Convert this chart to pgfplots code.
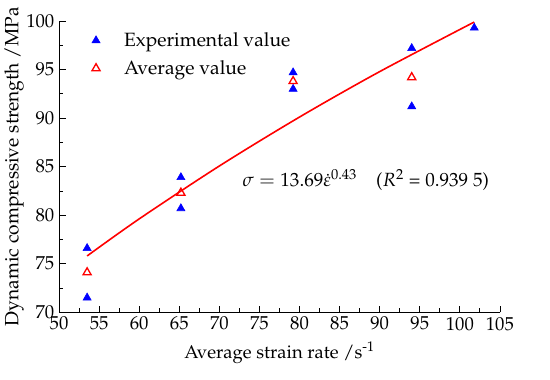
\documentclass[border=0pt]{standalone}
\usepackage[T1]{fontenc}
\usepackage{mathpazo}
\usepackage{pgfplots}
\pgfplotsset{compat=1.18}
\begin{document}
\begin{tikzpicture}
\begin{axis}[
  width=330pt, height=218pt, scale only axis,
  xmin=50, xmax=105, ymin=70, ymax=100,
  axis x line*=bottom, axis y line*=left,
  axis line style={-, line width=0.8pt},
  xtick={50,55,...,105}, ytick={70,75,...,100},
  minor x tick num=1, minor y tick num=1,
  tick align=inside, tick style={black, line width=0.6pt},
  major tick length=5pt, minor tick length=3pt,
  ticklabel style={font=\fontsize{14}{16}\selectfont},
  xlabel={Average strain rate /s\textsuperscript{-1}},
  ylabel={Dynamic compressive strength /MPa},
  xlabel style={font=\fontsize{13.8}{16}\selectfont, yshift=-2pt},
  ylabel style={font=\fontsize{14.4}{16}\selectfont, yshift=-5pt},
  legend style={draw=none, fill=none, at={(0.065,0.98)}, anchor=north west, font=\fontsize{14.4}{17}\selectfont, row sep=5pt,
    /tikz/every odd column/.append style={column sep=16pt}},
  legend cell align=left,
  clip=false,
]
\addplot[only marks, mark=triangle*, mark size=3.5pt, color=blue, fill=blue] coordinates {
(53.5,76.6) (53.5,71.5) (65.2,83.9) (65.2,80.7) (79.2,94.7) (79.2,93.0) (94.0,97.2) (94.0,91.2) (101.8,99.3)};
\addlegendentry{Experimental value}
\addplot[only marks, mark=triangle, mark size=3.5pt, color=red, mark options={line width=1pt}] coordinates {
(53.5,74.1) (65.2,82.3) (79.2,93.8) (94.0,94.2)};
\addlegendentry{Average value}
\addplot[red, line width=1.2pt, smooth, forget plot] coordinates {
(53.5,75.8) (60,79.62) (70,85.07) (80,90.11) (90,94.79) (101.8,99.9)};
\node[anchor=west, font=\fontsize{14.3}{16}\selectfont] at (axis cs:72.3,83.6) {$\sigma = 13.69\dot{\varepsilon}^{0.43}$\quad($R^2$ = 0.939 5)};
\coordinate (tr) at (rel axis cs:1,1);
\coordinate (bl) at (rel axis cs:0,0);
\end{axis}
\path ([shift={(37.5pt,15.75pt)}]tr) ([shift={(0pt,-50pt)}]bl);
\end{tikzpicture}
\end{document}
